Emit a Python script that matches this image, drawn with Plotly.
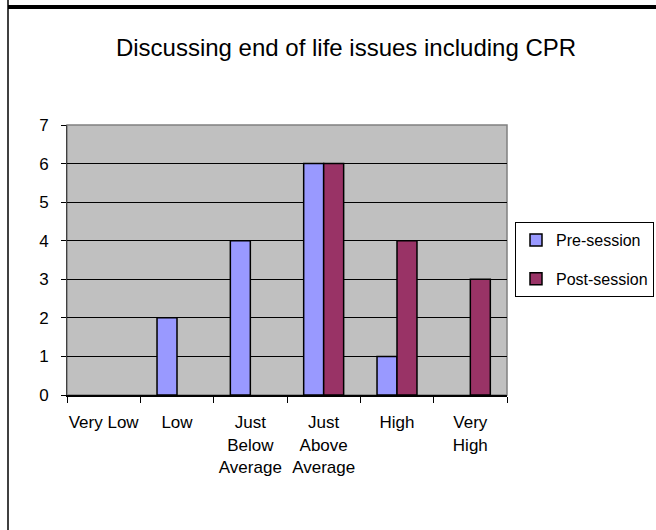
import plotly.graph_objects as go

categories = ["Very Low", "Low", "Just<br>Below<br>Average", "Just<br>Above<br>Average", "High", "Very<br>High"]
pre_session = [0, 2, 4, 6, 1, 0]
post_session = [0, 0, 0, 6, 4, 3]
y_ticks = [0, 1, 2, 3, 4, 5, 6, 7]

FONT = "Liberation Sans, Arial, sans-serif"

def drawn(vals):
    # zero-height bars are not drawn in the reference
    return [v if v else None for v in vals]

fig = go.Figure()
fig.add_trace(go.Bar(x=categories, y=drawn(pre_session), name="Pre-session",
                     marker=dict(color="#9999FF", line=dict(color="black", width=1.5)),
                     legendgroup="a"))
fig.add_trace(go.Bar(x=categories, y=drawn(post_session), name="Post-session",
                     marker=dict(color="#993366", line=dict(color="black", width=1.5)),
                     legendgroup="b"))

L, R, T, B = 67, 507, 125, 395
W, H = 656, 530

def px(x):
    return (x - L) / (R - L)

def py(y):
    return (B - y) / (B - T)

fig.update_layout(
    width=W, height=H,
    margin=dict(l=L, r=W - R, t=T, b=H - B, autoexpand=False),
    paper_bgcolor="white",
    plot_bgcolor="#C0C0C0",
    barmode="group",
    bargap=0.455,
    bargroupgap=0,
    font=dict(family=FONT, size=16, color="black"),
    title=dict(text="Discussing end of life issues including CPR",
               x=346 / W, xref="container", xanchor="center",
               y=1 - 48 / H, yref="container", yanchor="middle",
               font=dict(family=FONT, size=24, color="black")),
    legend=dict(x=px(515), y=py(222), xanchor="left", yanchor="top",
                bordercolor="black", borderwidth=1, bgcolor="white",
                font=dict(family=FONT, size=16, color="black"),
                itemwidth=30,
                traceorder="grouped", tracegroupgap=15),
    showlegend=True,
    xaxis=dict(type="category", tickson="boundaries", ticks="outside", ticklen=6,
               tickcolor="black", tickwidth=1, showgrid=False,
               showline=True, linecolor="black", linewidth=2,
               tickfont=dict(family=FONT, size=17, color="black"),
               ticklabelstandoff=11, automargin=False,
               tickangle=0, fixedrange=True),
    yaxis=dict(range=[0, 7], tickvals=y_ticks, ticks="outside", ticklen=5,
               tickcolor="black", tickwidth=1,
               showgrid=True, gridcolor="black", gridwidth=1,
               showline=True, linecolor="#404040", linewidth=1,
               zeroline=False, ticklabelstandoff=9, automargin=False,
               tickfont=dict(family=FONT, size=17, color="black"), fixedrange=True),
    shapes=[
        dict(type="rect", xref="paper", yref="paper", x0=0, x1=1, y0=0, y1=1,
             line=dict(color="#808080", width=1.5), layer="below"),
        dict(type="line", xref="paper", yref="paper", x0=px(8), x1=px(660), y0=py(7), y1=py(7),
             line=dict(color="black", width=4)),
        dict(type="line", xref="paper", yref="paper", x0=px(8), x1=px(8), y0=py(-5), y1=py(540),
             line=dict(color="black", width=1.5)),
    ],
)

fig.write_html("out.html", config={"displayModeBar": False},
               post_script="document.body.style.margin='0';document.body.style.overflow='hidden';")
